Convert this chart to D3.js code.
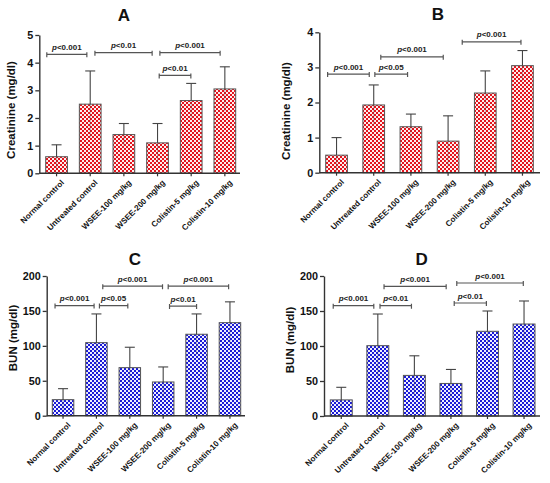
<!DOCTYPE html>
<html>
<head>
<meta charset="utf-8">
<script src="https://cdn.jsdelivr.net/npm/d3@7"></script>
<style>
  body { margin: 0; background: #fff; }
  svg { display: block; font-family: "Liberation Sans", Arial, sans-serif; }
</style>
</head>
<body>
<div id="chart"></div>
<script>
const groups = ["Normal control", "Untreated control", "WSEE-100 mg/kg", "WSEE-200 mg/kg", "Colistin-5 mg/kg", "Colistin-10 mg/kg"]

// Creatinine (mg/dl), mean and SD
const creatA = [0.6, 2.5, 1.4, 1.1, 2.63, 3.05]
const creatASd = [0.43, 1.2, 0.4, 0.7, 0.62, 0.8]
const creatB = [0.5, 1.93, 1.31, 0.9, 2.27, 3.05]
const creatBSd = [0.5, 0.57, 0.36, 0.72, 0.63, 0.43]

// BUN (mg/dl), mean and SD
const bunC = [23, 104.6, 68.8, 48.3, 116.6, 133.2]
const bunCSd = [15.7, 41.1, 29.2, 21.5, 29.1, 29.8]
const bunD = [23, 100.5, 58, 46.5, 121, 131.4]
const bunDSd = [18, 45.2, 28, 20, 29, 32.9]

const creatTicksA = [0, 1, 2, 3, 4, 5]
const creatTicksB = [0, 1, 2, 3, 4]
const bunTicks = [0, 50, 100, 150, 200]

// significance brackets: [from (group index), to (group index), y value, p text]
const bracketsA = [[-0.29, 0.9, 4.3, "<0.001"], [1.14, 2.84, 4.36, "<0.01"], [3.07, 4.86, 4.36, "<0.001"], [3.05, 3.99, 3.54, "<0.01"]]
const bracketsB = [[-0.24, 0.88, 2.81, "<0.001"], [1.03, 1.91, 2.81, "<0.05"], [1.19, 2.87, 3.3, "<0.001"], [3.38, 4.96, 3.73, "<0.001"]]
const bracketsC = [[-0.24, 0.93, 157.6, "<0.001"], [1.09, 1.94, 157.6, "<0.05"], [1.19, 2.98, 185.4, "<0.001"], [3.19, 4.0, 157, "<0.01"], [3.15, 4.96, 185.4, "<0.001"]]
const bracketsD = [[-0.22, 0.89, 157.6, "<0.001"], [1.06, 1.92, 157.6, "<0.01"], [1.17, 2.87, 185.3, "<0.001"], [3.09, 3.97, 161.4, "<0.01"], [3.16, 4.98, 190, "<0.001"]]

const width = 550
const height = 483

const svg = d3.select("#chart").append("svg")
  .attr("width", width)
  .attr("height", height)

// checkerboard fills
const defs = svg.append("defs")
function checker(id, dark, light) {
  const s = 2
  const p = defs.append("pattern")
    .attr("id", id)
    .attr("patternUnits", "userSpaceOnUse")
    .attr("width", 2 * s).attr("height", 2 * s)
  p.append("rect").attr("width", 2 * s).attr("height", 2 * s).attr("fill", light)
  p.append("rect").attr("width", s).attr("height", s).attr("fill", dark)
  p.append("rect").attr("x", s).attr("y", s).attr("width", s).attr("height", s).attr("fill", dark)
}
checker("redCheck", "#e3141d", "#fdeeee")
checker("blueCheck", "#1a1ad6", "#eeeeff")

const panels = [
  { letter: "A", means: creatA, sds: creatASd, ticks: creatTicksA, brackets: bracketsA, title: "Creatinine (mg/dl)", fill: "url(#redCheck)",
    axisX: 39.3, axisEnd: 240, top: 35, bottom: 173.3, barL: 45.7, barR: 235.7, pad: 0.355, letterX: 124, letterY: 20.5, titleX: 14.5, titleY: 110 },
  { letter: "B", means: creatB, sds: creatBSd, ticks: creatTicksB, brackets: bracketsB, title: "Creatinine (mg/dl)", fill: "url(#redCheck)",
    axisX: 319.3, axisEnd: 540, top: 32.3, bottom: 172.7, barL: 325.7, barR: 533.3, pad: 0.417, letterX: 438, letterY: 20, titleX: 289.5, titleY: 111 },
  { letter: "C", means: bunC, sds: bunCSd, ticks: bunTicks, brackets: bracketsC, title: "BUN (mg/dl)", fill: "url(#blueCheck)",
    axisX: 46.7, axisEnd: 245, top: 276, bottom: 415.7, barL: 52.3, barR: 240.7, pad: 0.356, letterX: 135, letterY: 265, titleX: 17, titleY: 338 },
  { letter: "D", means: bunD, sds: bunDSd, ticks: bunTicks, brackets: bracketsD, title: "BUN (mg/dl)", fill: "url(#blueCheck)",
    axisX: 324, axisEnd: 540, top: 276, bottom: 416, barL: 330.3, barR: 535, pad: 0.4, letterX: 421.7, letterY: 265, titleX: 294, titleY: 340 }
]

panels.forEach(function (p) {
  const g = svg.append("g")
  const yMax = p.ticks[p.ticks.length - 1]
  const y = d3.scaleLinear().domain([0, yMax]).range([p.bottom, p.top])
  const x = d3.scaleBand().domain(groups).range([p.barL, p.barR]).paddingInner(p.pad).paddingOuter(0)
  const bw = x.bandwidth()
  const step = x.step()
  const cx = function (i) { return p.barL + bw / 2 + i * step }

  // bars
  g.selectAll(".bar")
    .data(p.means)
    .enter()
    .append("rect")
    .attr("x", function (d, i) { return x(groups[i]) })
    .attr("y", function (d) { return y(d) })
    .attr("width", bw)
    .attr("height", function (d) { return p.bottom - y(d) })
    .attr("fill", p.fill)
    .attr("stroke", "#555")
    .attr("stroke-width", 1)

  // error bars (SD)
  const err = g.selectAll(".err").data(p.means).enter().append("g")
  err.append("line")
    .attr("x1", function (d, i) { return cx(i) }).attr("x2", function (d, i) { return cx(i) })
    .attr("y1", function (d) { return y(d) })
    .attr("y2", function (d, i) { return y(d + p.sds[i]) })
    .attr("stroke", "#444").attr("stroke-width", 1.1)
  err.append("line")
    .attr("x1", function (d, i) { return cx(i) }).attr("x2", function (d, i) { return cx(i) })
    .attr("y1", function (d) { return y(d) })
    .attr("y2", function (d, i) { return Math.min(p.bottom, y(d - p.sds[i])) })
    .attr("stroke", "#444").attr("stroke-width", 1).attr("stroke-opacity", 0.35)
  err.append("line")
    .attr("x1", function (d, i) { return cx(i) - 5 }).attr("x2", function (d, i) { return cx(i) + 5 })
    .attr("y1", function (d, i) { return y(d + p.sds[i]) })
    .attr("y2", function (d, i) { return y(d + p.sds[i]) })
    .attr("stroke", "#444").attr("stroke-width", 1.1)

  // y axis
  const yAxis = d3.axisLeft(y).tickValues(p.ticks).tickSize(4).tickSizeOuter(0).tickPadding(2).tickFormat(d3.format("d"))
  const ya = g.append("g").attr("transform", "translate(" + p.axisX + ",0)").call(yAxis)
  ya.select(".domain").attr("stroke", "#333").attr("stroke-width", 1.4)
  ya.selectAll(".tick line").attr("stroke", "#333").attr("stroke-width", 1.3)
  ya.selectAll(".tick text").attr("font-size", 10.8).attr("font-weight", "bold").attr("fill", "#111")
    .attr("font-family", "Liberation Sans, Arial, sans-serif")

  // x axis
  const xAxis = d3.axisBottom(x).tickSize(3).tickSizeOuter(0)
  const xa = g.append("g").attr("transform", "translate(0," + p.bottom + ")").call(xAxis)
  xa.select(".domain").remove()
  xa.append("line").attr("x1", p.axisX).attr("x2", p.axisEnd).attr("stroke", "#333").attr("stroke-width", 1.4)
  xa.selectAll(".tick line").attr("stroke", "#333").attr("stroke-width", 1.2)
  xa.selectAll(".tick text")
    .attr("font-size", 8.1).attr("font-weight", "bold").attr("fill", "#111")
    .attr("font-family", "Liberation Sans, Arial, sans-serif")
    .attr("text-anchor", "end")
    .attr("dy", "0.3em")
    .attr("transform", "translate(2,4) rotate(-45)")

  // brackets
  const br = g.selectAll(".br").data(p.brackets).enter().append("g")
  br.append("path")
    .attr("d", function (d) {
      const x1 = cx(d[0]), x2 = cx(d[1]), yy = y(d[2])
      return "M" + x1 + "," + (yy - 2) + "V" + (yy + 3) + "M" + x1 + "," + yy + "H" + x2 + "M" + x2 + "," + (yy - 2) + "V" + (yy + 3)
    })
    .attr("fill", "none").attr("stroke", "#555").attr("stroke-width", 1.2)
  const bt = br.append("text")
    .attr("x", function (d) { return (cx(d[0]) + cx(d[1])) / 2 })
    .attr("y", function (d) { return y(d[2]) - 4.5 })
    .attr("text-anchor", "middle")
    .attr("font-size", 8).attr("font-weight", "bold").attr("fill", "#222")
  bt.append("tspan").attr("font-style", "italic").text("p")
  bt.append("tspan").text(function (d) { return d[3] })

  // y title
  g.append("text")
    .attr("transform", "translate(" + p.titleX + "," + p.titleY + ") rotate(-90)")
    .attr("text-anchor", "middle")
    .attr("font-size", 11.5).attr("font-weight", "bold").attr("fill", "#111")
    .text(p.title)

  // panel letter
  g.append("text")
    .attr("x", p.letterX).attr("y", p.letterY)
    .attr("text-anchor", "middle")
    .attr("font-size", 17).attr("font-weight", "bold").attr("fill", "#111")
    .text(p.letter)
})
</script>
</body>
</html>
